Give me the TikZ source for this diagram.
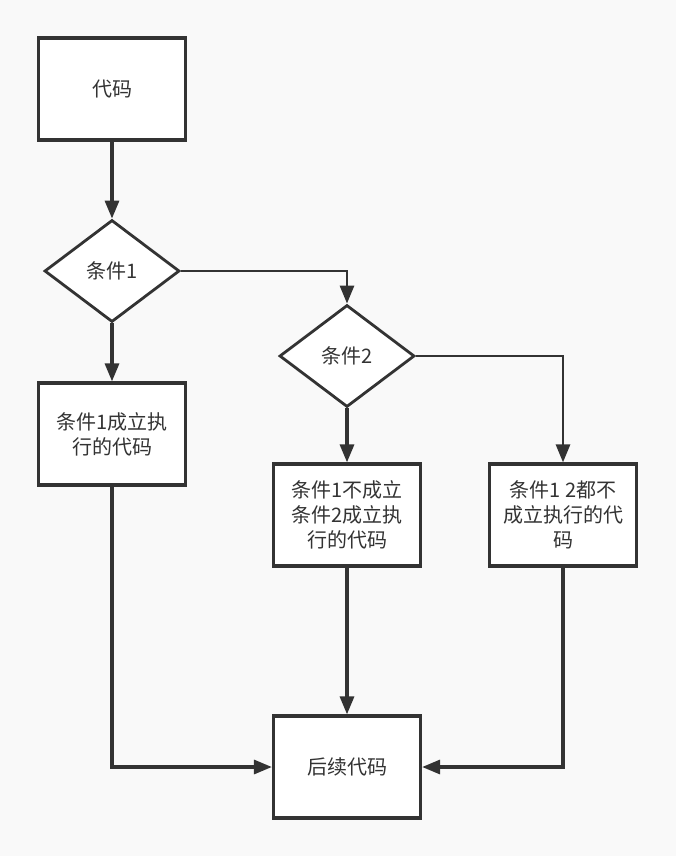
\documentclass[tikz,border=0pt]{standalone}
\usepackage{fontspec}
\setmainfont{Noto Sans CJK SC}
\usetikzlibrary{positioning, arrows.meta, shapes.geometric}
\definecolor{linegray}{HTML}{333333}
\definecolor{bggray}{HTML}{F9F9F9}

\begin{document}
\begin{tikzpicture}[
  x=1pt, y=-1pt,
  font=\fontsize{20}{25}\selectfont,
  >={Triangle[length=18pt, width=14pt]},
  %% Node styles
  block/.style={
    draw=linegray, fill=white, line width=3.2pt,
    minimum width=147pt, minimum height=102pt,
    inner sep=0pt, align=center, text=linegray
  },
  decision/.style={
    diamond, draw=linegray, fill=white, line width=2.8pt,
    minimum width=135pt, minimum height=102pt,
    inner sep=0pt, text=linegray
  },
  %% Connector styles
  flow/.style={->, draw=linegray, line width=3.2pt},
  thinflow/.style={flow, line width=2.8pt},
]

%% ── BACKGROUND ────────────────────────────────────────────────────────────
\fill[bggray] (0,0) rectangle (676,856);

%% ── NODES ─────────────────────────────────────────────────────────────────
\node[block]    (code)  at (112, 89)  {代码};
\node[decision] (cond1) at (112, 271) {条件1};
\node[block]    (yes1)  at (112, 434) {条件1成立执\\行的代码};
\node[decision] (cond2) at (347, 356) {条件2};
\node[block]    (yes2)  at (347, 515) {条件1不成立\\条件2成立执\\行的代码};
\node[block]    (no2)   at (563, 515) {条件1 2都不\\成立执行的代\\码};
\node[block]    (next)  at (347, 767) {后续代码};

%% ── EDGES ─────────────────────────────────────────────────────────────────
\draw[flow]     (code) -- (cond1);
\draw[flow]     (cond1) -- (yes1);
\draw[thinflow] (cond1.east) -| (cond2.north);
\draw[flow]     (cond2) -- (yes2);
\draw[thinflow] (cond2.east) -| (no2.north);
\draw[flow]     (yes1.south) |- (next.west);
\draw[flow]     (yes2) -- (next);
\draw[flow]     (no2.south) |- (next.east);

\end{tikzpicture}
\end{document}
